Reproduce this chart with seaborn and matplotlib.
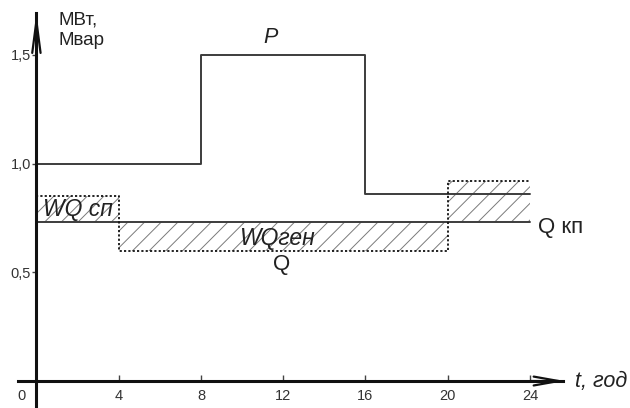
import matplotlib
matplotlib.use("Agg")
import matplotlib.pyplot as plt
import seaborn as sns
import pandas as pd

# Active power P over the day, MW (step profile, value holds until next time)
p_hours = [0, 8, 16, 24]
p_values = [1.0, 1.5, 0.86, 0.86]

# Generated reactive power Q profile, Mvar
qgen_hours = [0, 4, 20, 24]
qgen_values = [0.85, 0.60, 0.92, 0.92]

# Reactive power delivered by the compensating plant, Mvar
q_comp_hours = [0, 24]
q_comp_values = [0.73, 0.73]

x_ticks = [4, 8, 12, 16, 20, 24]
y_ticks = [0.5, 1.0, 1.5]
y_tick_labels = ["0,5", "1,0", "1,5"]

sns.set_theme(style="white")
plt.rcParams["font.family"] = ["Liberation Sans", "DejaVu Sans"]
plt.rcParams["hatch.linewidth"] = 0.7

fig = plt.figure(figsize=(6.3, 4.08), dpi=100)
ax = fig.add_axes([0, 0, 1, 1])
ax.set_xlim(-1.77, 28.86)
ax.set_ylim(-0.124, 1.752)

ink = "#222222"
line_col = "#3c3c3c"

# P curve
p_df = pd.DataFrame({"t": p_hours, "P": p_values})
sns.lineplot(data=p_df, x="t", y="P", drawstyle="steps-post", estimator=None,
             color=line_col, linewidth=1.4, ax=ax)

# Compensation level Q кп
qc_df = pd.DataFrame({"t": q_comp_hours, "Q": q_comp_values})
sns.lineplot(data=qc_df, x="t", y="Q", estimator=None,
             color=line_col, linewidth=1.4, ax=ax)

# Hatched energy areas between the generation profile and compensation level
q_comp = q_comp_values[0]
ax.fill_between(qgen_hours, q_comp, qgen_values, step="post",
                facecolor="none", edgecolor="#7a7a7a", hatch="//", linewidth=0)

# Dotted outline of the generation profile
qg_df = pd.DataFrame({"t": qgen_hours, "Q": qgen_values})
sns.lineplot(data=qg_df, x="t", y="Q", drawstyle="steps-post", estimator=None,
             color="#111111", linewidth=1.3, linestyle=(0, (1.2, 1.2)), ax=ax)

# Axes through the origin
for s in ["top", "right"]:
    ax.spines[s].set_visible(False)
ax.spines["left"].set_position(("data", 0))
ax.spines["bottom"].set_position(("data", 0))
ax.spines["left"].set_bounds(-0.2, 1.69)
ax.spines["bottom"].set_bounds(-0.9, 25.6)
for s in ["left", "bottom"]:
    ax.spines[s].set_linewidth(2.2)
    ax.spines[s].set_color("#111111")

ax.set_xticks(x_ticks)
ax.set_xticklabels([str(v) for v in x_ticks])
ax.set_yticks(y_ticks)
ax.set_yticklabels(y_tick_labels)
ax.tick_params(axis="x", direction="in", length=4, width=1, colors="#444444",
               labelcolor="#333333", labelsize=10.5, pad=6, bottom=True)
ax.tick_params(axis="y", direction="out", length=3, width=1, colors="#444444",
               labelcolor="#333333", labelsize=10.5, pad=1, left=True)
ax.set_xlabel("")
ax.set_ylabel("")

# Arrow heads
ax.annotate("", xy=(0, 1.695), xytext=(0, 1.50),
            arrowprops=dict(arrowstyle="->,head_length=2.3,head_width=0.3",
                            lw=1.6, color="#111111", mutation_scale=10,
                            shrinkA=0, shrinkB=0))
ax.annotate("", xy=(25.7, 0), xytext=(24.0, 0),
            arrowprops=dict(arrowstyle="->,head_length=1.8,head_width=0.32",
                            lw=1.6, color="#111111", mutation_scale=10,
                            shrinkA=0, shrinkB=0))

# Labels
ax.text(-0.5, -0.035, "0", ha="right", va="top", fontsize=10.5, color="#333333")
ax.text(1.05, 1.70, "МВт,\nМвар", ha="left", va="top", fontsize=13.5,
        color=ink, linespacing=1.3)
ax.text(26.2, 0, "t, год", ha="left", va="center", fontsize=15.5,
        style="italic", color=ink)
ax.text(11.4, 1.58, "P", ha="center", va="center", fontsize=15.5,
        style="italic", color=ink)
ax.text(0.3, 0.79, "WQ сп", ha="left", va="center", fontsize=16.5,
        style="italic", color=ink)
ax.text(11.7, 0.655, "WQген", ha="center", va="center", fontsize=16.5,
        style="italic", color=ink)
ax.text(11.9, 0.535, "Q", ha="center", va="center", fontsize=16, color=ink)
ax.text(24.4, 0.706, "Q кп", ha="left", va="center", fontsize=16, color=ink)

fig.savefig("out.png", dpi=100)
